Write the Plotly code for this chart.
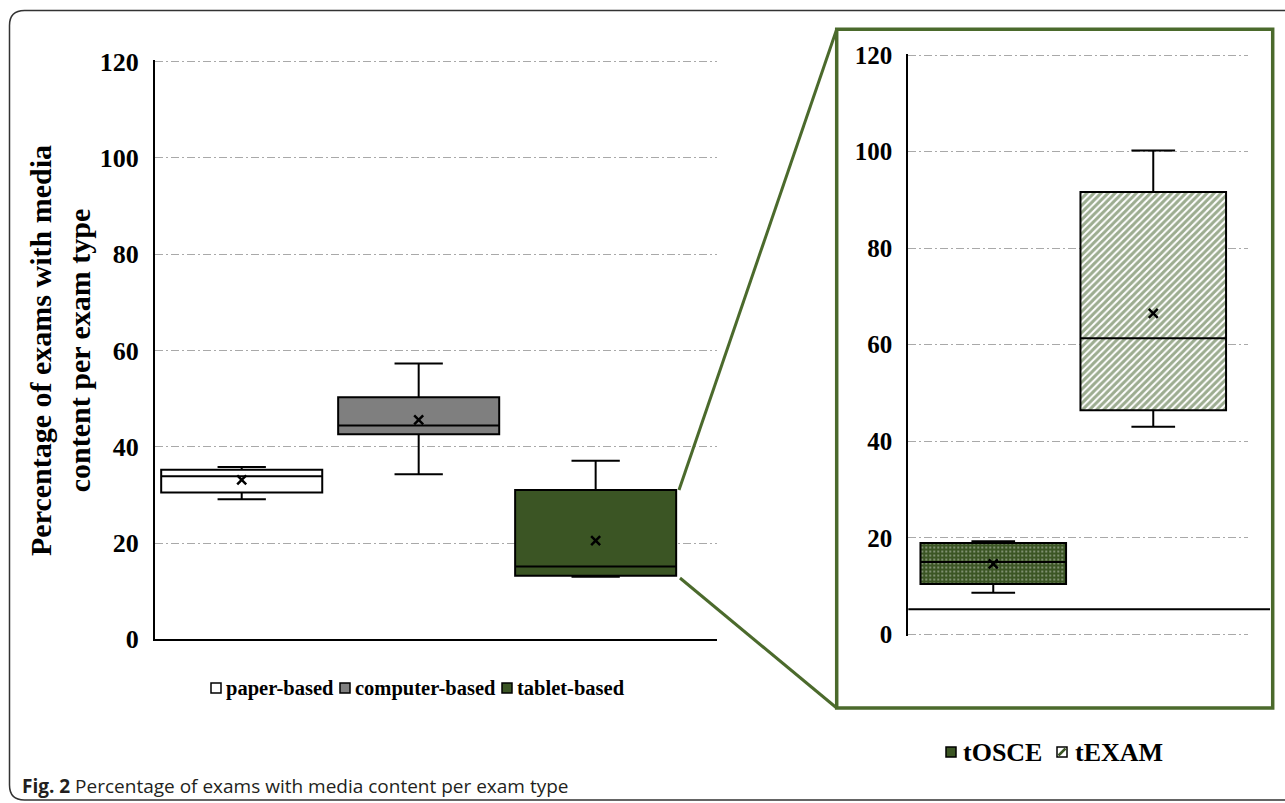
import plotly.graph_objects as go

# ---------------- data ----------------
left_categories = ["paper-based", "computer-based", "tablet-based"]
left_q1 = [30.5, 42.6, 13.2]
left_median = [33.9, 44.4, 15.1]
left_q3 = [35.2, 50.3, 31.0]
left_low = [29.1, 34.3, 13.0]
left_high = [35.8, 57.3, 37.1]
left_mean = [33.1, 45.6, 20.5]

right_categories = ["tOSCE", "tEXAM"]
right_q1 = [10.4, 46.4]
right_median = [15.0, 61.3]
right_q3 = [18.9, 91.6]
right_low = [8.6, 43.0]
right_high = [19.3, 100.2]
right_mean = [14.6, 66.5]

y_ticks = [0, 20, 40, 60, 80, 100, 120]

# ---------------- style ----------------
W, H = 1285, 803
def X(px):
    return px / W
def Y(py):
    return 1 - py / H

SERIF = "Liberation Serif, Times New Roman, serif"
SANS = "Open Sans, Noto Sans, sans-serif"
GREEN = "#3b5524"
FRAME_GREEN = "#4b6a2c"
GRAY = "#7f7f7f"
GRID = "#a9a9a9"
left_fills = ["#ffffff", GRAY, GREEN]

PAD = 0.3  # small range padding so the end grid lines are drawn
lpx = (639.3 - 61.7) / 120
rpx = (634.3 - 55.0) / 120
left_xdom = [X(155), X(716.7)]
left_ydom = [Y(639.3), Y(61.7 - PAD * lpx)]
right_xdom = [X(908.3), X(1248.3)]
right_ydom = [Y(634.3 + PAD * rpx), Y(55.0 - PAD * rpx)]
right_axis_cross = 5.2

fig = go.Figure()

# left boxes
for i, name in enumerate(left_categories):
    fig.add_trace(go.Box(
        x=[i], q1=[left_q1[i]], median=[left_median[i]], q3=[left_q3[i]],
        lowerfence=[left_low[i]], upperfence=[left_high[i]],
        name=name, width=0.91, whiskerwidth=0.3, boxpoints=False,
        fillcolor=left_fills[i], line=dict(color="black", width=2),
        xaxis="x", yaxis="y", showlegend=False))
fig.add_trace(go.Scatter(
    x=list(range(len(left_categories))), y=left_mean, mode="markers",
    marker=dict(symbol="x-thin", size=9, line=dict(color="black", width=2.5)),
    xaxis="x", yaxis="y", showlegend=False))

# right patterned fills (bars) under the boxes
patterns = [
    dict(color=GREEN, pattern=dict(shape=".", fgcolor="#ffffff", size=4,
                                   solidity=0.18, fillmode="overlay")),
    dict(color="#ffffff", pattern=dict(shape="/", fgcolor="#3a5a22", size=5,
                                       solidity=0.6, fillmode="overlay")),
]
for i, name in enumerate(right_categories):
    fig.add_trace(go.Bar(
        x=[i], base=[right_q1[i]], y=[right_q3[i] - right_q1[i]], width=0.91,
        marker=dict(line=dict(width=0), **patterns[i]),
        name=name, xaxis="x2", yaxis="y2", showlegend=False, hoverinfo="skip"))
for i, name in enumerate(right_categories):
    fig.add_trace(go.Box(
        x=[i], q1=[right_q1[i]], median=[right_median[i]], q3=[right_q3[i]],
        lowerfence=[right_low[i]], upperfence=[right_high[i]],
        name=name, width=0.91, whiskerwidth=0.3, boxpoints=False,
        fillcolor="rgba(0,0,0,0)", line=dict(color="black", width=2),
        xaxis="x2", yaxis="y2", showlegend=False))
fig.add_trace(go.Scatter(
    x=list(range(len(right_categories))), y=right_mean, mode="markers",
    marker=dict(symbol="x-thin", size=9, line=dict(color="black", width=2.5)),
    xaxis="x2", yaxis="y2", showlegend=False))

yaxis_common = dict(
    tickvals=y_ticks, showgrid=True, gridcolor=GRID,
    gridwidth=1, griddash="8px,3px,2px,3px", zeroline=False,
    showline=True, linecolor="black", linewidth=2, ticks="",
    ticklabelstandoff=9, automargin=False, fixedrange=True)

fig.update_layout(
    width=W, height=H, template="none",
    paper_bgcolor="white", plot_bgcolor="white",
    margin=dict(l=0, r=0, t=0, b=0),
    showlegend=False, boxmode="overlay", barmode="overlay",
    xaxis=dict(domain=left_xdom, range=[-0.49, 2.684], showgrid=False,
               zeroline=False, showticklabels=False, showline=True,
               linecolor="black", linewidth=2, ticks="", automargin=False),
    yaxis=dict(domain=left_ydom, range=[0, 120 + PAD],
               tickfont=dict(family=SERIF, size=26, color="black", weight="bold"),
               **yaxis_common),
    xaxis2=dict(domain=right_xdom, range=[-0.531, 1.594], showgrid=False,
                zeroline=False, showticklabels=False, showline=False,
                ticks="", automargin=False, anchor="y2"),
    yaxis2=dict(domain=right_ydom, anchor="x2", range=[-PAD, 120 + PAD],
                tickfont=dict(family=SERIF, size=25, color="black", weight="bold"),
                **yaxis_common),
)

shapes = []
# outer frame with rounded left corners
r = 15
shapes.append(dict(
    type="path", xref="paper", yref="paper",
    path=(f"M 1.01,{Y(10.5)} L {X(9.5 + r)},{Y(10.5)} "
          f"Q {X(9.5)},{Y(10.5)} {X(9.5)},{Y(10.5 + r)} "
          f"L {X(9.5)},{Y(800 - r)} Q {X(9.5)},{Y(800)} {X(9.5 + r)},{Y(800)} "
          f"L 1.01,{Y(800)}"),
    line=dict(color="#333333", width=1.5)))
# right zoom panel border
shapes.append(dict(type="rect", xref="paper", yref="paper",
                   x0=X(836.7), x1=X(1272.7), y0=Y(708), y1=Y(29.3),
                   line=dict(color=FRAME_GREEN, width=3.5)))
# connector lines
shapes.append(dict(type="line", xref="paper", yref="paper",
                   x0=X(679), y0=Y(490), x1=X(836.7), y1=Y(29.3),
                   line=dict(color=FRAME_GREEN, width=3)))
shapes.append(dict(type="line", xref="paper", yref="paper",
                   x0=X(680), y0=Y(578), x1=X(836.7), y1=Y(708),
                   line=dict(color=FRAME_GREEN, width=3)))
# right panel category axis line crossing at 5.2
y_cross = Y(634.3 - right_axis_cross * rpx)
shapes.append(dict(type="line", xref="paper", yref="paper",
                   x0=right_xdom[0], x1=X(1270), y0=y_cross, y1=y_cross,
                   line=dict(color="black", width=2)))

annotations = []
# y axis title
annotations.append(dict(
    xref="paper", yref="paper", x=X(60), y=Y(351), showarrow=False,
    text="Percentage of exams with media<br>content per exam type",
    textangle=-90, xanchor="center", yanchor="middle",
    font=dict(family=SERIF, size=30, color="black", weight="bold")))
# caption
annotations.append(dict(
    xref="paper", yref="paper", x=X(20), y=Y(786), showarrow=False,
    xanchor="left", yanchor="middle",
    text="<b>Fig. 2</b> Percentage of exams with media content per exam type",
    font=dict(family=SANS, size=19, color="#231f20")))

# legends (manual)
def legend_item(x_sym, y_c, label, fill, text_x, size):
    shapes.append(dict(type="rect", xref="paper", yref="paper",
                       x0=X(x_sym), x1=X(x_sym + 10), y0=Y(y_c + 5), y1=Y(y_c - 5),
                       fillcolor=fill, line=dict(color="black", width=1.5)))
    annotations.append(dict(
        xref="paper", yref="paper", x=X(text_x), y=Y(y_c), showarrow=False,
        xanchor="left", yanchor="middle", text=label,
        font=dict(family=SERIF, size=size, color="black", weight="bold")))

legend_item(211, 688, left_categories[0], left_fills[0], 224, 20.5)
legend_item(340, 688, left_categories[1], left_fills[1], 353, 20.5)
legend_item(502, 688, left_categories[2], left_fills[2], 515, 20.5)

legend_item(946, 752, right_categories[0], GREEN, 961, 26)
legend_item(1057, 752, right_categories[1], "#ffffff", 1073, 26)
shapes.append(dict(type="line", xref="paper", yref="paper",
                   x0=X(1058.5), y0=Y(755.5), x1=X(1065.5), y1=Y(748.5),
                   line=dict(color=GREEN, width=2.5)))

fig.update_layout(shapes=shapes, annotations=annotations)

fig.write_html("out.html", config={"displayModeBar": False, "responsive": False},
               post_script="document.body.style.margin='0';document.body.style.overflow='hidden';")
